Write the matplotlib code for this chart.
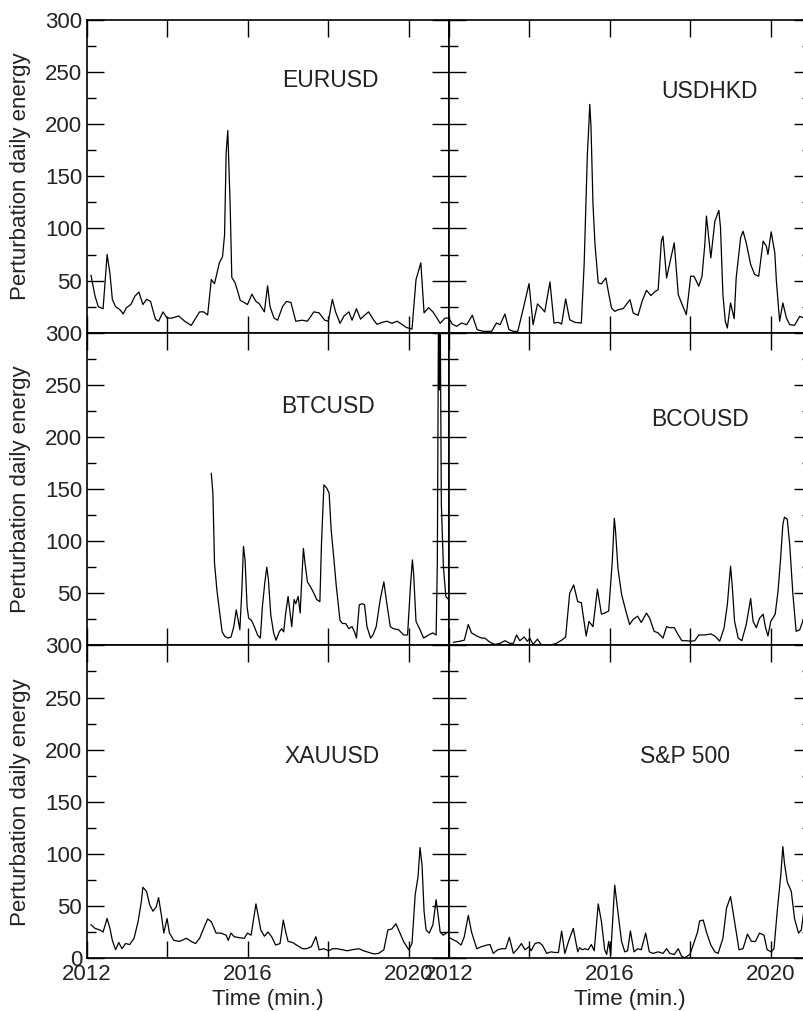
import matplotlib
matplotlib.use('Agg')
import matplotlib.pyplot as plt
import numpy as np
from matplotlib.ticker import MultipleLocator, FuncFormatter, NullLocator

plt.rcParams['font.family'] = ['Liberation Sans', 'DejaVu Sans']
plt.rcParams['font.size'] = 16

# time in years since 2012
eur_t = [0.10, 0.20, 0.28, 0.40, 0.50, 0.57, 0.63, 0.71, 0.82, 0.90,
         0.98, 1.09, 1.19, 1.29, 1.39, 1.48, 1.58, 1.70, 1.78, 1.89,
         1.99, 2.11, 2.28, 2.43, 2.59, 2.80, 2.90, 3.00, 3.09, 3.17,
         3.29, 3.37, 3.42, 3.46, 3.50, 3.52, 3.56, 3.60, 3.68, 3.76,
         3.81, 3.91, 3.99, 4.10, 4.20, 4.28, 4.41, 4.49, 4.55, 4.65,
         4.74, 4.86, 4.96, 5.07, 5.19, 5.35, 5.48, 5.64, 5.77, 5.91,
         6.00, 6.10, 6.18, 6.29, 6.39, 6.51, 6.59, 6.70, 6.80, 6.88,
         7.00, 7.13, 7.21, 7.34, 7.46, 7.58, 7.71, 7.83, 7.94, 8.08,
         8.18, 8.30, 8.38, 8.49, 8.60, 8.70, 8.78, 8.90, 8.99]
eur_v = [55, 35, 25, 23, 75, 57, 32, 25, 22, 18,
         24, 27, 35, 39, 27, 32, 30, 13, 11, 20,
         14, 14, 16, 11, 7, 20, 20, 17, 51, 47,
         67, 73, 94, 173, 194, 170, 121, 53, 48, 38,
         31, 29, 27, 37, 30, 28, 20, 45, 25, 14,
         12, 25, 30, 29, 11, 12, 11, 20, 19, 12,
         11, 32, 20, 9, 16, 20, 12, 23, 13, 16,
         20, 12, 8, 10, 11, 9, 11, 8, 5, 3.5,
         51, 67, 19, 24, 20, 14, 9, 14, 14]

hkd_t = [0.00, 0.08, 0.19, 0.31, 0.44, 0.58, 0.70, 0.85, 1.06, 1.18,
         1.27, 1.39, 1.49, 1.60, 1.71, 1.85, 1.99, 2.09, 2.20, 2.30,
         2.38, 2.51, 2.61, 2.72, 2.80, 2.90, 3.00, 3.13, 3.29, 3.36,
         3.44, 3.48, 3.50, 3.53, 3.58, 3.63, 3.71, 3.79, 3.90, 3.96,
         4.04, 4.12, 4.21, 4.33, 4.50, 4.58, 4.70, 4.80, 4.91, 5.02,
         5.13, 5.20, 5.28, 5.32, 5.41, 5.49, 5.60, 5.70, 5.79, 5.90,
         6.01, 6.09, 6.21, 6.29, 6.36, 6.40, 6.51, 6.61, 6.71, 6.75,
         6.81, 6.87, 6.92, 7.00, 7.09, 7.14, 7.25, 7.31, 7.39, 7.50,
         7.60, 7.70, 7.81, 7.89, 7.93, 8.01, 8.10, 8.14, 8.22, 8.30,
         8.39, 8.47, 8.59, 8.72, 8.82]
hkd_v = [13.5, 8.3, 6.1, 9.3, 7.7, 16.7, 2.9, 1.3, 1.3, 9.3,
         7.7, 17.9, 2.9, 1.3, 1.3, 23.7, 47.1, 7.7, 27.6, 23.7,
         19.9, 48.7, 9.3, 9.9, 8.3, 32.4, 12.5, 9.9, 9.3, 65.4,
         171, 201.6, 219, 198, 123, 84.6, 47.8, 46.8, 52.6, 39.7,
         23.7, 20.5, 22.1, 23.1, 31.7, 18.9, 16.7, 30.1, 40.7, 35.6,
         39.7, 41.3, 87.8, 92.6, 52.6, 67.0, 86.2, 36.5, 27.6, 17.3,
         54.2, 54.2, 44.6, 54.2, 84.6, 111.9, 71.8, 107, 117.3, 100.6,
         36.5, 10.9, 4.5, 28.5, 13.5, 52.6, 91.0, 97.4, 86.2, 65.4,
         55.8, 54.2, 87.8, 83.0, 75.0, 96.8, 76.6, 49.4, 10.9, 28.5,
         14.1, 7.7, 7.1, 15.7, 14.1]

btc_t = [3.09, 3.13, 3.17, 3.23, 3.29, 3.36, 3.42, 3.50, 3.58, 3.65,
         3.71, 3.76, 3.80, 3.85, 3.89, 3.93, 3.98, 4.02, 4.09, 4.16,
         4.24, 4.31, 4.36, 4.42, 4.47, 4.51, 4.57, 4.64, 4.70, 4.78,
         4.84, 4.89, 4.94, 5.00, 5.05, 5.09, 5.15, 5.19, 5.25, 5.30,
         5.33, 5.38, 5.42, 5.48, 5.56, 5.64, 5.71, 5.79, 5.83, 5.89,
         5.96, 6.02, 6.07, 6.14, 6.20, 6.29, 6.35, 6.43, 6.51, 6.59,
         6.66, 6.70, 6.77, 6.84, 6.90, 6.96, 7.05, 7.11, 7.19, 7.29,
         7.38, 7.44, 7.54, 7.62, 7.75, 7.87, 7.97, 8.04, 8.09, 8.12,
         8.18, 8.28, 8.37, 8.49, 8.60, 8.68, 8.71, 8.74, 8.76, 8.78,
         8.81, 8.86, 8.92, 8.99]
btc_v = [165, 146, 79, 53, 34, 13, 9, 7, 8, 18,
         34, 24, 15, 53, 95, 82, 37, 26, 24, 18,
         10, 7, 37, 60, 75, 63, 29, 12, 5, 13,
         16, 13, 31, 47, 31, 18, 44, 40, 47, 31,
         56, 93, 79, 61, 56, 50, 44, 42, 98, 154,
         151, 146, 111, 82, 56, 24, 21, 21, 16, 18,
         12, 7, 39, 40, 39, 18, 7, 10, 18, 44,
         61, 44, 18, 16, 15, 10, 10, 56, 82, 69,
         23, 15, 7, 10, 12, 10, 79, 330, 245, 330,
         135, 76, 47, 44]

bco_t = [0.11, 0.27, 0.38, 0.48, 0.56, 0.69, 0.81, 0.89, 1.02, 1.14,
         1.27, 1.39, 1.51, 1.60, 1.68, 1.76, 1.87, 1.95, 2.01, 2.09,
         2.20, 2.28, 2.38, 2.55, 2.67, 2.80, 2.90, 3.00, 3.10, 3.20,
         3.29, 3.41, 3.48, 3.58, 3.69, 3.79, 3.87, 3.97, 4.06, 4.11,
         4.14, 4.20, 4.29, 4.39, 4.49, 4.58, 4.69, 4.78, 4.91, 4.99,
         5.10, 5.20, 5.32, 5.41, 5.49, 5.60, 5.70, 5.79, 5.90, 6.01,
         6.11, 6.21, 6.36, 6.51, 6.61, 6.73, 6.84, 6.92, 7.00, 7.04,
         7.10, 7.19, 7.28, 7.39, 7.50, 7.56, 7.64, 7.72, 7.81, 7.87,
         7.93, 8.00, 8.11, 8.18, 8.24, 8.30, 8.34, 8.41, 8.47, 8.55,
         8.63, 8.72, 8.82]
bco_v = [3, 4, 5, 20, 12, 9, 7, 7, 3, 1,
         2, 4.5, 2, 2, 10, 4.5, 8, 4, 7, 1,
         6, 1.3, 0, 0.6, 2, 5, 8, 50, 58, 42,
         41, 9, 23, 18, 54, 30, 31, 33, 81, 122,
         110, 74, 49, 34, 20, 25, 28, 22, 31, 26,
         13.5, 12, 7, 18, 17, 17, 10, 4.5, 4.5, 4,
         4.5, 10, 10, 11, 9, 4, 17, 39, 76, 58,
         23, 7, 4.5, 20, 45, 23, 17, 26, 30, 17,
         9, 23, 30, 52, 81, 116, 123, 121, 97, 49,
         13.5, 15, 26]

xau_t = [0.10, 0.20, 0.32, 0.40, 0.50, 0.57, 0.63, 0.71, 0.79, 0.87,
         0.96, 1.06, 1.17, 1.27, 1.35, 1.39, 1.48, 1.56, 1.64, 1.72,
         1.78, 1.85, 1.91, 1.99, 2.05, 2.16, 2.30, 2.47, 2.59, 2.70,
         2.80, 2.90, 3.00, 3.09, 3.21, 3.33, 3.46, 3.51, 3.58, 3.66,
         3.79, 3.91, 3.99, 4.08, 4.12, 4.20, 4.26, 4.32, 4.41, 4.50,
         4.59, 4.69, 4.80, 4.88, 4.94, 5.00, 5.11, 5.23, 5.36, 5.46,
         5.58, 5.69, 5.77, 5.89, 6.01, 6.10, 6.22, 6.35, 6.47, 6.59,
         6.76, 6.88, 7.01, 7.13, 7.25, 7.38, 7.48, 7.58, 7.68, 7.77,
         7.87, 8.00, 8.08, 8.16, 8.23, 8.28, 8.33, 8.38, 8.43, 8.51,
         8.60, 8.68, 8.74, 8.78, 8.86, 8.93, 8.99]
xau_v = [32, 28.5, 27, 25, 38, 28.5, 17, 8, 15, 9,
         14, 13, 19, 35, 54, 68, 64, 51, 45, 49,
         58, 41, 24, 38, 24, 17, 16, 19, 16, 14,
         19, 28.5, 37.5, 35, 24, 24, 22, 17, 24, 20.5,
         19.6, 19, 24, 22, 32, 52, 40, 27, 21, 25,
         20.5, 12.5, 14, 36.5, 25, 16, 15, 12, 9, 9,
         11, 20.5, 8, 9, 7, 9, 9, 8, 7, 8,
         9, 7, 5.4, 4, 4.5, 8, 27, 28, 33, 25,
         16, 8, 14, 61, 78, 106, 89, 45, 27, 24,
         32, 56, 38, 25, 22, 24, 25]

spx_t = [0.00, 0.08, 0.19, 0.30, 0.38, 0.48, 0.56, 0.69, 0.81, 0.94,
         1.02, 1.10, 1.21, 1.31, 1.41, 1.50, 1.60, 1.71, 1.80, 1.89,
         1.99, 2.04, 2.14, 2.24, 2.32, 2.43, 2.53, 2.63, 2.72, 2.80,
         2.88, 2.98, 3.09, 3.20, 3.25, 3.31, 3.38, 3.46, 3.54, 3.61,
         3.71, 3.79, 3.87, 3.92, 3.97, 4.02, 4.12, 4.21, 4.29, 4.37,
         4.44, 4.51, 4.60, 4.69, 4.78, 4.89, 4.98, 5.07, 5.20, 5.32,
         5.41, 5.49, 5.60, 5.70, 5.78, 5.86, 5.99, 6.07, 6.18, 6.23,
         6.32, 6.40, 6.51, 6.61, 6.69, 6.81, 6.90, 7.00, 7.10, 7.21,
         7.31, 7.42, 7.52, 7.62, 7.72, 7.83, 7.91, 8.01, 8.08, 8.16,
         8.25, 8.30, 8.34, 8.41, 8.51, 8.59, 8.69, 8.76, 8.82]
spx_v = [20, 18, 16, 12.5, 20.5, 41, 25, 9, 11, 12.5,
         13, 4.5, 8, 9, 9, 20, 4.5, 9, 14, 8,
         11, 7, 14, 15, 12.5, 4.5, 6, 5.4, 5.4, 26,
         4.5, 17, 28.5, 6, 10, 8, 9, 8, 13, 7,
         52, 35, 8, 3.5, 16, 3, 70, 41, 16, 6,
         7, 26, 6, 9, 8, 24, 6, 4.5, 6, 4.5,
         9, 4.5, 3.5, 9, 2, 0.3, 3.5, 12.5, 25, 35.6,
         36.5, 25, 12.5, 6, 4.5, 19, 48, 59, 35, 8,
         9, 23, 16, 16, 24, 22, 8, 6, 9, 45,
         80, 107, 91, 73, 64, 38, 24, 27, 45]

names = ['EURUSD', 'USDHKD', 'BTCUSD', 'BCOUSD', 'XAUUSD', 'S&P 500']
series = [(eur_t, eur_v), (hkd_t, hkd_v), (btc_t, btc_v),
          (bco_t, bco_v), (xau_t, xau_v), (spx_t, spx_v)]
name_pos = [(2018.04, 242), (2018.48, 231), (2018.0, 229),
            (2018.25, 217), (2018.1, 193), (2017.86, 193)]

W, H = 804, 1011
fig = plt.figure(figsize=(W / 100, H / 100), dpi=100)

# panel geometry in pixels
left0 = 87
pw = 362
ph = 312.7
top0 = 20

def year_label(x, pos):
    y = int(round(x))
    return str(y) if y % 4 == 0 else ''

def energy_label(y, pos):
    # the 0 of the upper panels sits under the 300 of the panel below
    return str(int(round(y)))

def energy_label_upper(y, pos):
    return '' if y < 1 else str(int(round(y)))

for i, ((t, v), name, (nx, ny)) in enumerate(zip(series, names, name_pos)):
    row, col = i // 2, i % 2
    x0 = left0 + col * pw
    y0 = top0 + (row + 1) * ph
    ax = fig.add_axes([x0 / W, 1 - y0 / H, pw / W, ph / H])
    ax.plot(2012 + np.array(t), v, color='black', lw=0.9)
    ax.set_xlim(2012, 2021)
    ax.set_ylim(0, 300)
    ax.xaxis.set_major_locator(MultipleLocator(2))
    ax.xaxis.set_minor_locator(NullLocator())
    ax.yaxis.set_major_locator(MultipleLocator(50))
    ax.yaxis.set_minor_locator(MultipleLocator(25))
    ax.tick_params(which='both', direction='in', top=True, right=True,
                   width=1.0, color='black', labelcolor='#222222')
    ax.tick_params(which='major', length=12)
    ax.tick_params(which='minor', length=6.5)
    ax.tick_params(axis='x', pad=4)
    for s in ax.spines.values():
        s.set_linewidth(1.2)
    if row == 2:
        ax.xaxis.set_major_formatter(FuncFormatter(year_label))
        ax.set_xlabel('Time (min.)', labelpad=3, color='#222222')
    else:
        ax.set_xticklabels([])
    if col == 0:
        if row == 2:
            ax.yaxis.set_major_formatter(FuncFormatter(energy_label))
        else:
            ax.yaxis.set_major_formatter(FuncFormatter(energy_label_upper))
        ax.set_ylabel('Perturbation daily energy', fontsize=16,
                      color='#222222')
        ax.yaxis.set_label_coords(-0.155, 0.5)
    else:
        ax.set_yticklabels([])
    ax.text(nx, ny, name, ha='center', va='center', fontsize=16.5,
            color='#222222')

fig.savefig('out.png', dpi=100)
